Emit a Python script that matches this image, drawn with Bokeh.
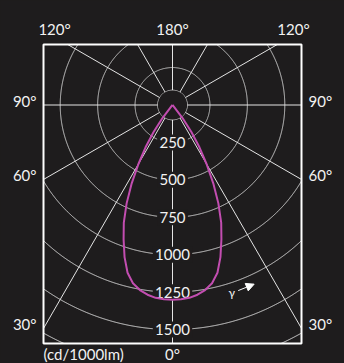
import numpy as np
from bokeh.plotting import figure
from bokeh.models import Range1d, Arrow, NormalHead
from bokeh.core.properties import value
from bokeh.embed import file_html
from bokeh.resources import INLINE

# ---------------- data ----------------
gamma_deg = [0, 2.5, 5, 7.5, 10, 12.5, 15, 17.5, 20, 22.5, 25, 27.5, 30,
             32.5, 35, 37.5, 40, 42.5, 90]
intensity = [1300, 1299, 1293, 1278, 1255, 1220, 1160, 1065, 955, 850, 725,
             590, 455, 335, 220, 110, 10, 0, 0]          # cd/1000lm
ring_values = [100, 250, 500, 750, 1000, 1250, 1500, 1750, 2000]
ring_labels = ["250", "500", "750", "1000", "1250", "1500"]
label_ring_values = [250, 500, 750, 1000, 1250, 1500]
spoke_angles = list(range(0, 360, 30))                   # gamma directions
side_labels = ["90°", "60°", "30°"]
side_gammas = [90, 60, 30]
top_labels = ["120°", "180°", "120°"]
bottom_label = "0°"
unit_label = "(cd/1000lm)"

# ---------------- style / geometry ----------------
BG = "#1e1c1d"
GRID = "#e4e4e4"
TXT = "#f2f2f2"
CURVE = "#c24db0"
FONT = "Lato"
FS = "15px"

W, H = 344, 363
PX = 0.14972                 # pixels per cd
D = 1.0 / PX                 # cd per pixel
CX, CY = 172.0, 104.5        # polar centre in canvas pixels
BOX_L, BOX_R = -129 * D, 129 * D
BOX_T, BOX_B = (CY - 44) * D, -(343 - CY) * D

p = figure(width=W, height=H, output_backend="svg", toolbar_location=None,
           x_range=Range1d(-CX * D, (W - CX) * D),
           y_range=Range1d(-(H - CY) * D, CY * D),
           min_border=0, x_axis_location=None, y_axis_location=None)
p.grid.visible = False
p.background_fill_color = BG
p.border_fill_color = BG
p.outline_line_color = None


def inside(x, y):
    return (x >= BOX_L) & (x <= BOX_R) & (y >= BOX_B) & (y <= BOX_T)


# rings, clipped to the frame
th = np.linspace(0, 2 * np.pi, 3601)
rx, ry = [], []
for r in ring_values:
    x = r * np.sin(th)
    y = -r * np.cos(th)
    m = inside(x, y)
    rx.append(np.where(m, x, np.nan))
    ry.append(np.where(m, y, np.nan))
p.multi_line(rx, ry, line_color=GRID, line_width=1)

# spokes, from the inner ring to the frame
r0 = ring_values[0]
x0s, y0s, x1s, y1s = [], [], [], []
for a in spoke_angles:
    t = np.radians(a)
    dx, dy = np.sin(t), -np.cos(t)
    ts = []
    if abs(dx) > 1e-9:
        ts.append((BOX_R if dx > 0 else BOX_L) / dx)
    if abs(dy) > 1e-9:
        ts.append((BOX_T if dy > 0 else BOX_B) / dy)
    tm = min(ts)
    x0s.append(r0 * dx); y0s.append(r0 * dy)
    x1s.append(tm * dx); y1s.append(tm * dy)
p.segment(x0=x0s, y0=y0s, x1=x1s, y1=y1s, line_color=GRID, line_width=1)

# frame
p.quad(left=[BOX_L], right=[BOX_R], top=[BOX_T], bottom=[BOX_B],
       fill_color=None, line_color="white", line_width=2)

# ring label backgrounds + labels
lab_y = [-v for v in label_ring_values]
p.rect(x=[0] * len(lab_y), y=lab_y,
       width=[8.6 * len(t) + 5 for t in ring_labels], height=[16] * len(lab_y),
       width_units="screen", height_units="screen",
       fill_color=BG, line_color=None)
p.text(x=[0] * len(lab_y), y=lab_y, text=ring_labels,
       text_align="center", text_baseline="middle",
       text_color=TXT, text_font=value(FONT), text_font_size=FS)

# intensity curve (symmetric)
g = np.radians(gamma_deg)
I = np.array(intensity, dtype=float)
xr = I * np.sin(g)
yr = -I * np.cos(g)
xs = np.concatenate([-xr[::-1], xr[1:]])
ys = np.concatenate([yr[::-1], yr[1:]])
p.line(xs, ys, line_color=CURVE, line_width=2, line_join="round")

# gamma annotation
AR = 1315
ga = np.radians(17.5)
p.text(x=[AR * np.sin(ga)], y=[-AR * np.cos(ga)], text=["γ"],
       text_align="center", text_baseline="middle",
       text_color=TXT, text_font=value(FONT), text_font_size="12px")
a0, a1 = np.radians(19.5), np.radians(24.5)
p.add_layout(Arrow(x_start=AR * np.sin(a0), y_start=-AR * np.cos(a0),
                   x_end=AR * np.sin(a1), y_end=-AR * np.cos(a1),
                   line_color="white", line_width=1,
                   end=NormalHead(size=8, fill_color="white", line_color="white")))

# outer text labels (vertically centred)
lx, ly, lt, la = [], [], [], []
for txt, gm in zip(side_labels, side_gammas):
    below = np.radians(90 - gm)
    y_c = -BOX_R * np.tan(below) + 4.5 * D
    lx += [BOX_L - 7 * D, BOX_R + 7 * D]
    ly += [y_c, y_c]
    lt += [txt, txt]
    la += ["right", "left"]

x120 = BOX_T / np.tan(np.radians(30))
y_top = BOX_T + 15.5 * D
for txt, xx, al in zip(top_labels, [-x120 + 3 * D, 0, x120], ["right", "center", "left"]):
    lx.append(xx); ly.append(y_top); lt.append(txt); la.append(al)

# bottom labels (kept inside the window)
y_bot = BOX_B - 10.5 * D
lx += [0, BOX_L]
ly += [y_bot, y_bot]
lt += [bottom_label, unit_label]
la += ["center", "left"]

p.text(x=lx, y=ly, text=lt, text_align=la, text_baseline="middle",
       text_color=TXT, text_font=value(FONT), text_font_size=FS)

html = file_html(p, INLINE)
html = html.replace("</head>", "<style>html,body{background:%s;}</style></head>" % BG, 1)
open("out.html", "w").write(html)
